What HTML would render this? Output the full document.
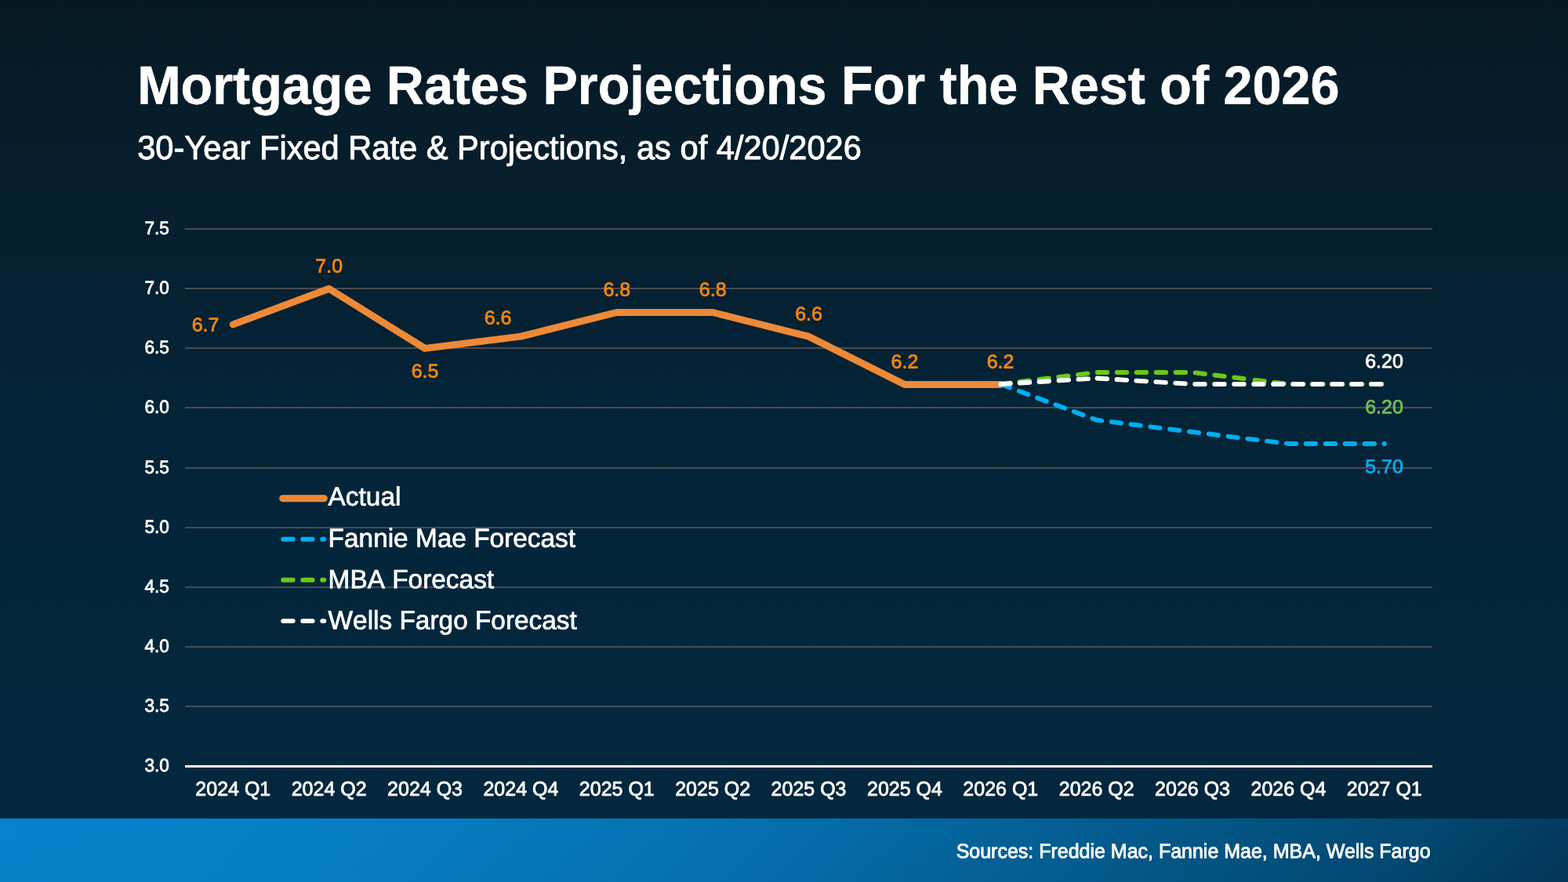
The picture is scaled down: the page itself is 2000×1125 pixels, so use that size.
<!DOCTYPE html>
<html lang="en">
<head>
<meta charset="utf-8">
<title>Mortgage Rates Projections For the Rest of 2026</title>
<style>
html,body{margin:0;padding:0;width:2000px;height:1125px;overflow:hidden;background:#03273e;}
body{font-family:"Liberation Sans",Arial,Helvetica,sans-serif;}
#slide{position:absolute;left:0;top:0;width:2000px;height:1125px;overflow:hidden;background:linear-gradient(180deg,#051922 0%,#061c29 11%,#071e2d 22%,#052132 33%,#042336 44%,#03253a 62%,#03273d 85%,#03273e 100%);}
#footer{position:absolute;left:0;top:1043.75px;width:2000px;height:81.25px;background:linear-gradient(137deg,#0881cb 0%,#0780c8 13%,#067cc1 26%,#0675b6 38%,#056ca9 51%,#046197 63%,#035584 75%,#024872 88%,#033b5f 96%,#033658 100%);}
svg{position:absolute;left:0;top:0;}
svg text{font-family:"Liberation Sans",Arial,Helvetica,sans-serif;stroke-linejoin:round;fill:#fff;stroke:#fff;}
.tt{font-size:66.5px;stroke-width:0.5px;font-weight:bold;}
.st{font-size:41.62px;stroke-width:0.9px;}
.yl{font-size:22.6px;stroke-width:0.8px;font-kerning:none;}
.xl{font-size:25.0px;stroke-width:0.8px;font-kerning:none;}
.dl{font-size:25.0px;stroke-width:0.8px;font-kerning:none;}
.lg{font-size:33.4px;stroke-width:0.7px;font-kerning:none;}
.sr{font-size:25.0px;stroke-width:0.8px;}
.o{fill:#f8860f;stroke:#f8860f;}
.g{fill:#70bf54;stroke:#70bf54;}
.b{fill:#00aeef;stroke:#00aeef;}
</style>
</head>
<body>
<div id="slide">
<div id="footer"></div>
<svg width="2000" height="1125" viewBox="0 0 2000 1125">
<text class="tt" transform="translate(175.2 132.5) matrix(1 .0005 0 1.04 0 0)" xml:space="preserve">Mortgage <tspan dy="-0.153">Rates </tspan><tspan dy="-0.096">Projections </tspan><tspan dy="-0.183">For </tspan><tspan dy="-0.060">the </tspan><tspan dy="-0.057">Rest </tspan><tspan dy="-0.078">of </tspan><tspan dy="-0.039">2026</tspan></text>
<text class="st" transform="translate(175.2 203) matrix(1 .0005 0 1.03 0 0)" xml:space="preserve">30-Year <tspan dy="-0.076">Fixed </tspan><tspan dy="-0.055">Rate </tspan><tspan dy="-0.048">&amp; </tspan><tspan dy="-0.019">Projections, </tspan><tspan dy="-0.111">as </tspan><tspan dy="-0.027">of </tspan><tspan dy="-0.022">4/20/2026</tspan></text>
<g stroke="#5f5b60" stroke-width="1.56" fill="none">
<line x1="236.1" y1="292" x2="1827" y2="292"/>
<line x1="236.1" y1="368" x2="1827" y2="368"/>
<line x1="236.1" y1="444" x2="1827" y2="444"/>
<line x1="236.1" y1="520" x2="1827" y2="520"/>
<line x1="236.1" y1="597" x2="1827" y2="597"/>
<line x1="236.1" y1="673" x2="1827" y2="673"/>
<line x1="236.1" y1="749" x2="1827" y2="749"/>
<line x1="236.1" y1="825" x2="1827" y2="825"/>
<line x1="236.1" y1="901" x2="1827" y2="901"/>
</g>
<line x1="236.1" y1="977.5" x2="1827" y2="977.5" stroke="#ffffff" stroke-width="3"/>
<text class="yl" transform="translate(215.9 298.65) matrix(1 .0005 0 1.03 0 0)" text-anchor="end">7.5</text>
<text class="yl" transform="translate(215.9 374.65) matrix(1 .0005 0 1.03 0 0)" text-anchor="end">7.0</text>
<text class="yl" transform="translate(215.9 450.65) matrix(1 .0005 0 1.03 0 0)" text-anchor="end">6.5</text>
<text class="yl" transform="translate(215.9 526.65) matrix(1 .0005 0 1.03 0 0)" text-anchor="end">6.0</text>
<text class="yl" transform="translate(215.9 603.65) matrix(1 .0005 0 1.03 0 0)" text-anchor="end">5.5</text>
<text class="yl" transform="translate(215.9 679.65) matrix(1 .0005 0 1.03 0 0)" text-anchor="end">5.0</text>
<text class="yl" transform="translate(215.9 755.65) matrix(1 .0005 0 1.03 0 0)" text-anchor="end">4.5</text>
<text class="yl" transform="translate(215.9 831.65) matrix(1 .0005 0 1.03 0 0)" text-anchor="end">4.0</text>
<text class="yl" transform="translate(215.9 907.65) matrix(1 .0005 0 1.03 0 0)" text-anchor="end">3.5</text>
<text class="yl" transform="translate(215.9 983.95) matrix(1 .0005 0 1.03 0 0)" text-anchor="end">3.0</text>
<text class="xl" transform="translate(297.29 1014.65) matrix(1 .0005 0 1.02 0 0)" text-anchor="middle">2024 Q1</text>
<text class="xl" transform="translate(419.67 1014.65) matrix(1 .0005 0 1.02 0 0)" text-anchor="middle">2024 Q2</text>
<text class="xl" transform="translate(542.04 1014.65) matrix(1 .0005 0 1.02 0 0)" text-anchor="middle">2024 Q3</text>
<text class="xl" transform="translate(664.42 1014.65) matrix(1 .0005 0 1.02 0 0)" text-anchor="middle">2024 Q4</text>
<text class="xl" transform="translate(786.8 1014.65) matrix(1 .0005 0 1.02 0 0)" text-anchor="middle">2025 Q1</text>
<text class="xl" transform="translate(909.17 1014.65) matrix(1 .0005 0 1.02 0 0)" text-anchor="middle">2025 Q2</text>
<text class="xl" transform="translate(1031.55 1014.65) matrix(1 .0005 0 1.02 0 0)" text-anchor="middle">2025 Q3</text>
<text class="xl" transform="translate(1153.93 1014.65) matrix(1 .0005 0 1.02 0 0)" text-anchor="middle">2025 Q4</text>
<text class="xl" transform="translate(1276.3 1014.65) matrix(1 .0005 0 1.02 0 0)" text-anchor="middle">2026 Q1</text>
<text class="xl" transform="translate(1398.68 1014.65) matrix(1 .0005 0 1.02 0 0)" text-anchor="middle">2026 Q2</text>
<text class="xl" transform="translate(1521.06 1014.65) matrix(1 .0005 0 1.02 0 0)" text-anchor="middle">2026 Q3</text>
<text class="xl" transform="translate(1643.43 1014.65) matrix(1 .0005 0 1.02 0 0)" text-anchor="middle">2026 Q4</text>
<text class="xl" transform="translate(1765.81 1014.65) matrix(1 .0005 0 1.02 0 0)" text-anchor="middle">2027 Q1</text>
<path d="M297.29 413.92 L419.67 368.23 L542.04 444.39 L664.42 429.16 L786.8 398.5 L909.17 398.5 L1031.55 429.16 L1153.93 490.5 L1276.3 490.5" fill="none" stroke="#ed8938" stroke-width="8.95" stroke-linecap="round" stroke-linejoin="round"/>
<path d="M1276.3 490 L1398.68 535.79 L1521.06 551.02 L1643.43 566 L1765.81 566" fill="none" stroke="#00aeef" stroke-width="5.9" stroke-linecap="round" stroke-linejoin="round" stroke-dasharray="12.5 12.47 12.5 12.47 12.5 12.47 12.5 12.47 12.5 12.47 12.5 12.47 12.5 12.47 12.5 12.47 12.5 12.47 12.5 12.47 12.5 12.47 12.5 12.47 12.5 12.47 12.5 12.47 12.5 12.47 12.5 12.47 12.5 12.47 12.5 12.47 12.5 12.47 12.5 12.47 12.5 12.47"/>
<path d="M1276.3 490 L1398.68 475 L1521.06 475 L1643.43 490 L1765.81 490" fill="none" stroke="#6cc819" stroke-width="5.9" stroke-linecap="round" stroke-linejoin="round" stroke-dasharray="12.5 11.97 12.5 12.47 12.5 12.47 12.5 12.47 12.5 12.47 12.5 12.47 12.5 12.47 12.5 12.47 12.5 12.47 12.5 12.47 12.5 12.47 12.5 12.47 12.5 14.07 12.5 12.47 12.5 12.47 12.5 12.47 12.5 12.47 12.5 12.47 12.5 12.47 12.5 12.47 12.5 12.47"/>
<path d="M1276.3 490 L1398.68 482.47 L1521.06 490 L1643.43 490 L1765.81 490" fill="none" stroke="#ffffff" stroke-width="5.9" stroke-linecap="round" stroke-linejoin="round" stroke-dasharray="12.5 11.97 12.5 12.47 12.5 12.47 12.5 12.47 12.5 11.67 12.5 12.47 12.5 12.47 12.5 12.47 12.5 12.47 12.5 12.47 12.5 12.47 12.5 12.47 12.5 12.47 12.5 12.47 12.5 12.47 12.5 12.47 12.5 12.47 12.5 12.47 12.5 12.47 12.5 12.47 12.5 12.47"/>
<text class="dl o" transform="translate(262 422.5) matrix(1 .0005 0 0.985 0 0)" text-anchor="middle">6.7</text>
<text class="dl o" transform="translate(419.67 347.5) matrix(1 .0005 0 0.985 0 0)" text-anchor="middle">7.0</text>
<text class="dl o" transform="translate(542.04 481.5) matrix(1 .0005 0 0.985 0 0)" text-anchor="middle">6.5</text>
<text class="dl o" transform="translate(635 413.4) matrix(1 .0005 0 0.985 0 0)" text-anchor="middle">6.6</text>
<text class="dl o" transform="translate(786.8 377.5) matrix(1 .0005 0 0.985 0 0)" text-anchor="middle">6.8</text>
<text class="dl o" transform="translate(909.17 377.5) matrix(1 .0005 0 0.985 0 0)" text-anchor="middle">6.8</text>
<text class="dl o" transform="translate(1031.55 408.5) matrix(1 .0005 0 0.985 0 0)" text-anchor="middle">6.6</text>
<text class="dl o" transform="translate(1153.93 469.5) matrix(1 .0005 0 0.985 0 0)" text-anchor="middle">6.2</text>
<text class="dl o" transform="translate(1276 469.5) matrix(1 .0005 0 0.985 0 0)" text-anchor="middle">6.2</text>
<text class="dl" transform="translate(1765.5 469) matrix(1 .0005 0 0.985 0 0)" text-anchor="middle">6.20</text>
<text class="dl g" transform="translate(1765.5 527.2) matrix(1 .0005 0 0.985 0 0)" text-anchor="middle">6.20</text>
<text class="dl b" transform="translate(1765.5 603.2) matrix(1 .0005 0 0.985 0 0)" text-anchor="middle">5.70</text>
<line x1="360.6" y1="635.7" x2="413.4" y2="635.7" stroke="#ed8938" stroke-width="8.95" stroke-linecap="round"/>
<text class="lg" transform="translate(418.6 644.8) matrix(1 .0005 0 1.005 0 0)">Actual</text>
<line x1="361.2" y1="687.8" x2="413.3" y2="687.8" stroke="#00aeef" stroke-width="5.9" stroke-linecap="round" stroke-dasharray="12.5 12.5"/>
<text class="lg" transform="translate(418.6 697.7) matrix(1 .0005 0 1.005 0 0)">Fannie Mae Forecast</text>
<line x1="361.2" y1="739.8" x2="413.3" y2="739.8" stroke="#6cc819" stroke-width="5.9" stroke-linecap="round" stroke-dasharray="12.5 12.5"/>
<text class="lg" transform="translate(418.6 750.2) matrix(1 .0005 0 1.005 0 0)">MBA Forecast</text>
<line x1="361.2" y1="792.1" x2="413.3" y2="792.1" stroke="#ffffff" stroke-width="5.9" stroke-linecap="round" stroke-dasharray="12.5 12.5"/>
<text class="lg" transform="translate(418.6 802.4) matrix(1 .0005 0 1.005 0 0)">Wells Fargo Forecast</text>
<text class="sr" transform="translate(1219.67 1094.2) matrix(1 .0005 0 1.03 0 0)" xml:space="preserve">Sources: <tspan dy="-0.051">Freddie </tspan><tspan dy="-0.045">Mac, </tspan><tspan dy="-0.030">Fannie </tspan><tspan dy="-0.040">Mae, </tspan><tspan dy="-0.030">MBA, </tspan><tspan dy="-0.033">Wells </tspan><tspan dy="-0.033">Fargo</tspan></text>
</svg>
</div>
</body>
</html>
